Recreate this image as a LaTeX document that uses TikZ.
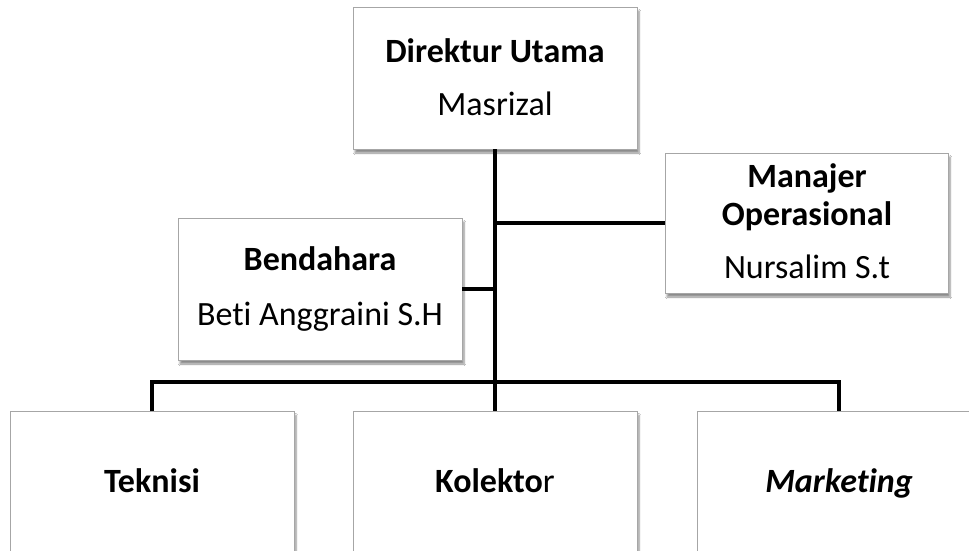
\documentclass[tikz,border=0pt]{standalone}
\usepackage{fontspec}
\setmainfont{Carlito}[Ligatures=NoCommon]
\usetikzlibrary{shadows.blur}

\tikzset{
  jabatan/.style={draw=gray!70, line width=0.8pt, fill=white, minimum width=284, minimum height=142,
    inner sep=0pt,
    blur shadow={shadow xshift=2pt, shadow yshift=-4pt, shadow blur steps=6, shadow opacity=45}},
  bawah/.style={jabatan, anchor=north, minimum height=170},
  judul/.style={anchor=base, inner sep=0pt, font=\fontsize{34}{40}\selectfont\bfseries},
  nama/.style={anchor=base, inner sep=0pt, font=\fontsize{34}{40}\selectfont},
  garis/.style={line width=4.5pt}
}

\begin{document}
\begin{tikzpicture}[x=1pt,y=-1pt]
        \clip (0,0) rectangle (969,551);
        \fill [white] (0,0) rectangle (969,551);
        % kotak jabatan
        \node [jabatan] (dir) at (495,78) {};
        \node [jabatan, minimum width=283, minimum height=140] (man) at (806.5,223) {};
        \node [jabatan, minimum height=142] (bend) at (320,289) {};
        \node [bawah] (tek) at (152,411) {};
        \node [bawah] (kol) at (495,411) {};
        \node [bawah] (mkt) at (839,411) {};
        % teks
        \node [judul] (dirj) at (495,63) {Direktur Utama};
        \node [nama] (dirn) at (495,115) {Masrizal};
        \node [judul] (manj1) at (807,187) {Manajer};
        \node [judul] (manj2) at (807,225) {Operasional};
        \node [nama] (mann) at (807,278) {Nursalim S.t};
        \node [judul] (bendj) at (320,270) {Bendahara};
        \node [nama] (bendn) at (320,325) {Beti Anggraini S.H};
        \node [judul] (tekj) at (152,492) {Teknisi};
        \node [judul] (kolj) at (495,492) {Kolekto\textmd{r}};
        \node [judul] (mktj) at (839,492) {\itshape Marketing};
        % garis
        \coordinate (bus) at (495,382);
        \draw [garis] (dir.south) -- (bus);
        \draw [garis] (tek.north) -- (tek.north |- bus) -- (mkt.north |- bus) -- (mkt.north);
        \draw [garis] (bus) -- (kol.north);
        \draw [garis] (man.west) -- (man.west -| bus);
        \draw [garis] (bend.east) -- (bend.east -| bus);
    \end{tikzpicture}
\end{document}
